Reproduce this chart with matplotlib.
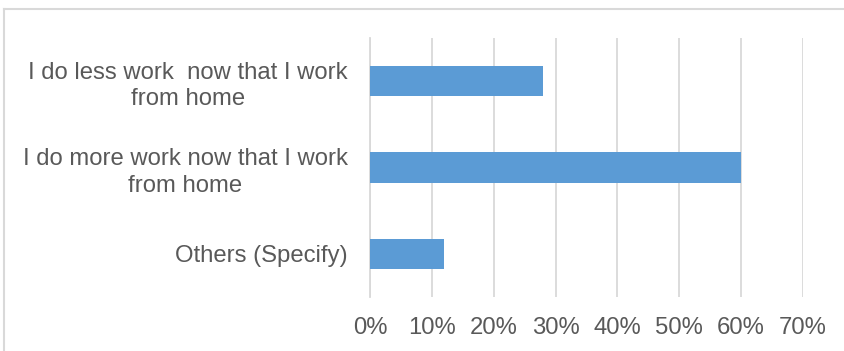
import matplotlib.pyplot as plt
from matplotlib.lines import Line2D

plt.rcParams['font.family'] = ['Liberation Sans', 'DejaVu Sans']

CATEGORIES = [
    "I do less work  now that I work\nfrom home",
    "I do more work now that I work\nfrom home",
    "Others (Specify)",
]
SHARES = [0.28, 0.60, 0.12]
TICKS = [0.0, 0.1, 0.2, 0.3, 0.4, 0.5, 0.6, 0.7]

BAR_COLOR = '#5b9bd5'
TEXT_COLOR = '#595959'
GRID_COLOR = '#d9d9d9'

W, H = 845, 351
fig = plt.figure(figsize=(W / 100, H / 100), dpi=100)

# plot area in pixel coordinates
left, right, top, bottom = 370, 803, 38, 297
ax = fig.add_axes([left / W, 1 - bottom / H, (right - left) / W, (bottom - top) / H])

y = list(range(len(CATEGORIES)))
ax.barh(y, SHARES, height=0.355, color=BAR_COLOR, zorder=3)
ax.set_ylim(len(CATEGORIES) - 0.5, -0.5)
ax.set_xlim(0, 0.7)

ax.set_xticks(TICKS)
ax.set_xticklabels([f"{int(round(t * 100))}%" for t in TICKS])
ax.set_yticks(y)
ax.set_yticklabels(CATEGORIES, multialignment='center', linespacing=1.28)

ax.grid(axis='x', color=GRID_COLOR, linewidth=1.3, zorder=0)
ax.tick_params(axis='both', length=0, labelsize=17.2, labelcolor=TEXT_COLOR)
ax.tick_params(axis='x', pad=14.5)
ax.tick_params(axis='y', pad=16)
for side in ['top', 'right', 'bottom']:
    ax.spines[side].set_visible(False)
ax.spines['left'].set_color(GRID_COLOR)
ax.spines['left'].set_linewidth(1.3)

# chart frame (top and left edges)
fig.add_artist(Line2D([4.5 / W, 4.5 / W], [0, 1 - 9 / H], transform=fig.transFigure,
                      color=GRID_COLOR, linewidth=1.5))
fig.add_artist(Line2D([4.5 / W, 1], [1 - 9 / H, 1 - 9 / H], transform=fig.transFigure,
                      color=GRID_COLOR, linewidth=1.5))

fig.savefig("out.png", dpi=100)
